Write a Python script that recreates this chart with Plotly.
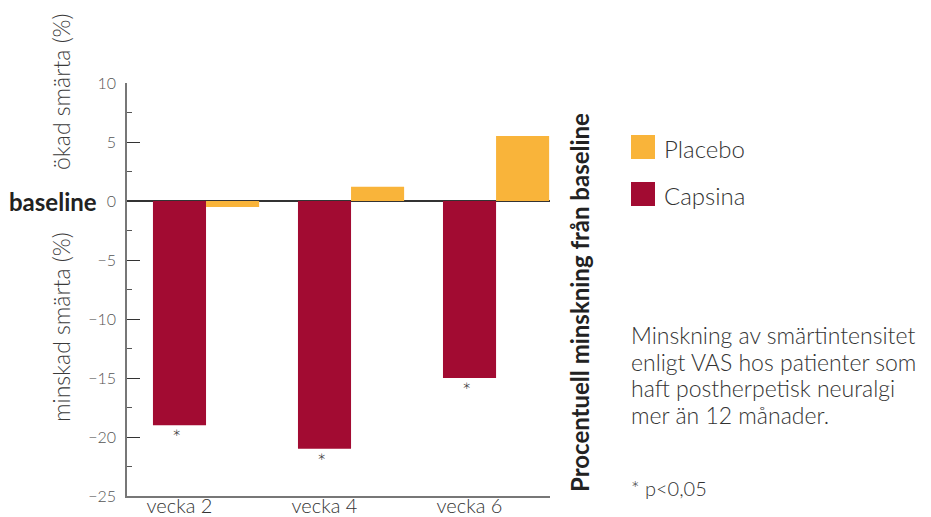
import plotly.graph_objects as go

categories = ["vecka 2", "vecka 4", "vecka 6"]
capsina = [-19.0, -21.0, -15.0]
placebo = [-0.5, 1.2, 5.5]
y_ticks = [10, 5, 0, -5, -10, -15, -20, -25]
significant = [True, True, True]
note_lines = ["Minskning av smärtintensitet", "enligt VAS hos patienter som",
              "haft postherpetisk neuralgi", "mer än 12 månader."]

CAPS = "#A20B32"
PLAC = "#F9B43A"
FONT = "Lato, Noto Sans, sans-serif"
LIGHT = 300

W, H = 931, 517
OFF = 8  # page body margin offset
L, R, T, B = 127, 550, 83, 496  # plot area in screen pixels


def px(x):
    return (x - L) / (R - L)


def py(y):
    return (B - y) / (B - T)


def label(x, y, text, size, color="#333", angle=0, xanchor="center", weight=LIGHT):
    return dict(x=px(x), y=py(y), xref="paper", yref="paper", text=text,
                textangle=angle, showarrow=False, xanchor=xanchor, yanchor="middle",
                font=dict(family=FONT, size=size, color=color, weight=weight))


idx = list(range(len(categories)))
bw = 0.366

fig = go.Figure()
fig.add_trace(go.Bar(x=idx, y=capsina, width=bw, offset=-bw / 2, marker_color=CAPS,
                     marker_line_width=0, name="Capsina", showlegend=False))
fig.add_trace(go.Bar(x=idx, y=placebo, width=bw, offset=bw / 2, marker_color=PLAC,
                     marker_line_width=0, name="Placebo", showlegend=False))

annotations = []
for i, v, s in zip(idx, capsina, significant):
    if s:
        annotations.append(dict(x=i, y=v, xref="x", yref="y", text="*", showarrow=False,
                                yanchor="top", yshift=3, xshift=-3,
                                font=dict(family=FONT, size=22, color="#333333", weight=LIGHT)))

annotations += [
    label(61, 92, "ökad smärta (%)", 23, "#3a3a3a", -90),
    label(61, 327, "minskad smärta (%)", 23, "#3a3a3a", -90),
    label(99, 201, "<b>baseline</b>", 24, "#222", 0, "right", 700),
    label(579, 303, "<b>Procentuell minskning från baseline</b>", 24, "#222", -90, "center", 700),
    label(662, 148, "Placebo", 24, "#333", 0, "left"),
    label(662, 195, "Capsina", 24, "#333", 0, "left"),
    label(629, 488, "* p<0,05", 20, "#333", 0, "left"),
]
for k, line in enumerate(note_lines):
    annotations.append(label(629, 335 + 26.7 * k, line, 23, "#333", 0, "left"))

shapes = [
    dict(type="rect", xref="paper", yref="paper", x0=px(631), x1=px(655), y0=py(159), y1=py(135),
         fillcolor=PLAC, line_width=0),
    dict(type="rect", xref="paper", yref="paper", x0=px(631), x1=px(655), y0=py(206), y1=py(182),
         fillcolor=CAPS, line_width=0),
]

fig.update_layout(
    width=W, height=H,
    margin=dict(l=L - OFF, r=W + OFF - R, t=T - OFF, b=H + OFF - B, pad=0, autoexpand=False),
    paper_bgcolor="white", plot_bgcolor="white",
    barmode="overlay",
    showlegend=False,
    annotations=annotations,
    shapes=shapes,
    font=dict(family=FONT),
)
fig.update_xaxes(
    range=[-0.362, 2.555], tickvals=idx, ticktext=categories, automargin=False,
    showgrid=False, zeroline=False, showline=True, linecolor="#777", linewidth=1.5,
    ticks="", ticklabelstandoff=-9,
    tickfont=dict(family=FONT, size=20, color="#333", weight=LIGHT),
)
fig.update_yaxes(
    range=[-25, 10], tickvals=y_ticks, ticktext=[str(t).replace("-", "−") for t in y_ticks],
    automargin=False,
    showgrid=False, zeroline=True, zerolinecolor="#333", zerolinewidth=2,
    showline=True, linecolor="#777", linewidth=1.5,
    ticks="inside", ticklen=13, tickcolor="#333", tickwidth=1.2, ticklabelstandoff=6,
    minor=dict(ticks="inside", ticklen=5, dtick=2.5, tickcolor="#555", tickwidth=1.2),
    tickfont=dict(family=FONT, size=16, color="#555", weight=LIGHT),
)

fig.write_html("out.html")
